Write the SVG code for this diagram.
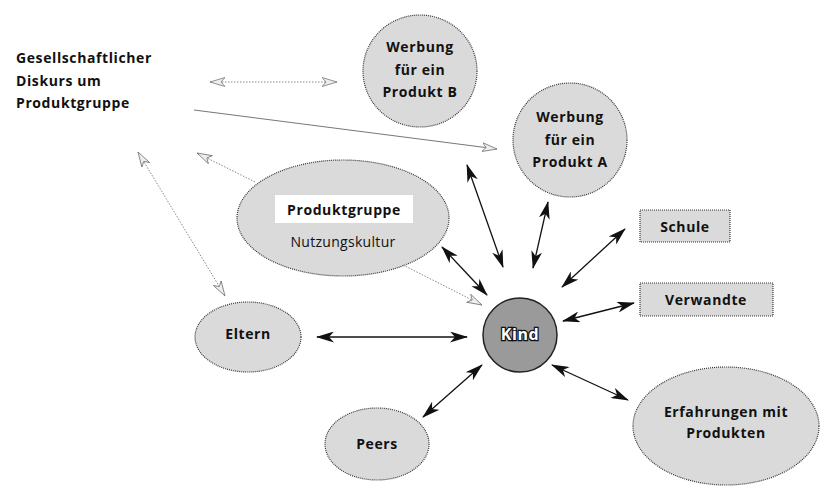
<svg xmlns="http://www.w3.org/2000/svg" width="824" height="495" viewBox="0 0 824 495">
<style>
.node{fill:#dadada;stroke:#333;stroke-width:1.2;stroke-dasharray:1 1}
.lbl{font-family:"Open Sans","Liberation Sans",sans-serif;font-weight:700;font-size:14px;letter-spacing:0.6px;fill:#111;text-anchor:middle}
.reg{font-family:"Open Sans","Liberation Sans",sans-serif;font-weight:400;font-size:14px;letter-spacing:0.3px;fill:#111;text-anchor:middle}
.solid{stroke:#111;stroke-width:1.3;fill:none;marker-start:url(#hb);marker-end:url(#hb)}
.grey{stroke:#888;stroke-width:1;fill:none;stroke-dasharray:1.5 1.5}
</style>
<defs>
<marker id="hb" viewBox="0 0 18 11" refX="17" refY="5.5" markerWidth="18" markerHeight="11" markerUnits="userSpaceOnUse" orient="auto-start-reverse">
<path d="M0,0 L18,5.5 L0,11 L5,5.5 z" fill="#111"/>
</marker>
<marker id="ho" viewBox="0 0 16 10" refX="15" refY="5" markerWidth="16" markerHeight="10" markerUnits="userSpaceOnUse" orient="auto-start-reverse">
<path d="M0,0.5 L15,5 L0,9.5 L4,5 z" fill="#eee" stroke="#777" stroke-width="0.8"/>
</marker>
</defs>

<g id="diskurs">
<text class="lbl" x="16" y="63" style="text-anchor:start">Gesellschaftlicher</text>
<text class="lbl" x="16" y="86" style="text-anchor:start">Diskurs um</text>
<text class="lbl" x="16" y="108" style="text-anchor:start">Produktgruppe</text>
</g>

<g id="werbungB">
<ellipse class="node" cx="420" cy="71" rx="57" ry="56"/>
<text class="lbl" x="420" y="52">Werbung</text>
<text class="lbl" x="420" y="75">für ein</text>
<text class="lbl" x="420" y="97">Produkt B</text>
</g>

<g id="werbungA">
<ellipse class="node" cx="570" cy="140" rx="57" ry="57"/>
<text class="lbl" x="570" y="122">Werbung</text>
<text class="lbl" x="570" y="145">für ein</text>
<text class="lbl" x="570" y="167">Produkt A</text>
</g>

<g id="produktgruppe">
<ellipse class="node" cx="343" cy="218" rx="106" ry="58"/>
<rect x="275" y="195" width="138" height="28" fill="#fff"/>
<text class="lbl" x="344" y="215">Produktgruppe</text>
<text class="reg" x="343" y="247">Nutzungskultur</text>
</g>

<g id="schule">
<rect class="node" x="640" y="210" width="90" height="32"/>
<text class="lbl" x="685" y="232">Schule</text>
</g>

<g id="verwandte">
<rect class="node" x="640" y="283" width="133" height="33"/>
<text class="lbl" x="706" y="305">Verwandte</text>
</g>

<g id="eltern">
<ellipse class="node" cx="248" cy="337" rx="53" ry="35"/>
<text class="lbl" x="248" y="339">Eltern</text>
</g>

<g id="kind">
<circle cx="520" cy="335" r="37" fill="#9a9a9a" stroke="#222" stroke-width="1.5"/>
<text class="lbl" x="520" y="340" style="font-size:16px;fill:#fff;stroke:#111;stroke-width:2.5;paint-order:stroke">Kind</text>
</g>

<g id="peers">
<ellipse class="node" cx="377" cy="444" rx="52" ry="36"/>
<text class="lbl" x="377" y="449">Peers</text>
</g>

<g id="erfahrungen">
<ellipse class="node" cx="726" cy="426" rx="93" ry="59"/>
<text class="lbl" x="726" y="417">Erfahrungen mit</text>
<text class="lbl" x="726" y="438">Produkten</text>
</g>

<g id="connectors">
<line class="grey" x1="210" y1="82" x2="337" y2="82" marker-start="url(#ho)" marker-end="url(#ho)"/>
<line x1="194" y1="110" x2="497" y2="149" stroke="#777" stroke-width="1" marker-end="url(#ho)"/>
<line class="grey" x1="255" y1="182" x2="197" y2="153" marker-end="url(#ho)"/>
<line class="grey" x1="138" y1="152" x2="225" y2="296" marker-start="url(#ho)" marker-end="url(#ho)"/>
<line class="grey" x1="403" y1="265" x2="482" y2="305" marker-end="url(#ho)"/>
<line class="solid" x1="467" y1="165" x2="503" y2="267"/>
<line class="solid" x1="548" y1="202" x2="533" y2="268"/>
<line class="solid" x1="625" y1="229" x2="562" y2="287"/>
<line class="solid" x1="634" y1="303" x2="563" y2="321"/>
<line class="solid" x1="442" y1="247" x2="487" y2="295"/>
<line class="solid" x1="317" y1="337" x2="467" y2="337"/>
<line class="solid" x1="482" y1="365" x2="423" y2="417"/>
<line class="solid" x1="552" y1="365" x2="628" y2="400"/>
</g>
</svg>
